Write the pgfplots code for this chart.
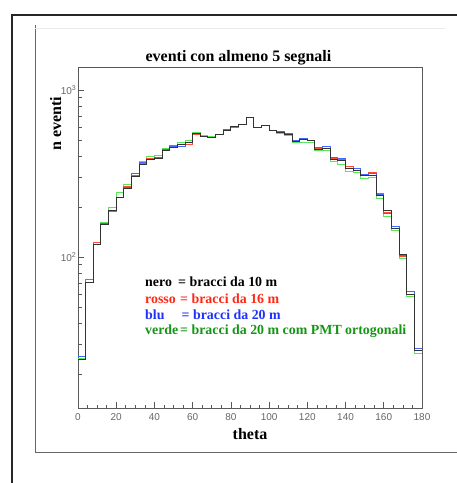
\documentclass[border=0pt]{standalone}
\usepackage{fontspec}
\setmainfont{Liberation Serif}
\setsansfont{Liberation Sans}
\usepackage{pgfplots}
\usepackage{pgfplotstable}
\pgfplotsset{compat=1.18}

\definecolor{histred}{RGB}{255,75,55}
\definecolor{histblue}{RGB}{70,100,255}
\definecolor{histgreen}{RGB}{90,230,90}
\definecolor{txtred}{RGB}{255,40,20}
\definecolor{txtblue}{RGB}{30,50,250}
\definecolor{txtgreen}{RGB}{20,150,20}

% counts per 4-degree bin of theta (last row closes the final bin)
\pgfplotstableread{
theta nero rosso blu verde
0 24.5 24.5 25.3 24.8
4 70.3 73 70 70.5
8 118.8 122.5 118.5 122
12 157 157 158 161.5
16 190 186.6 191 198.7
20 226 227.5 228 243.7
24 258 264 262 273.5
28 302 307 317 317
32 356 364 369 372.5
36 383 387 386 402
40 389 395 392 406
44 434 440 440 448
48 452 464 456 464
52 475 470 462 486
56 485 473 485 496
60 549 543 549 553
64 530 525 530 532
68 523 517 523 525
72 543 543 545 543
76 576 576 578 578
80 605 598 605 606
84 622 622 622 624
88 684 689 686 682
92 593 593 595 595
96 612 615 615 614
100 576 576 576 574
104 556 556 563 550
108 541 541 547 534
112 495 500 497 488
116 505 516 511 486
120 498 498 500 484
124 443 448 454 437
128 446 446 458 436
132 384 388 394 371
136 378 386 388 356
140 339 347 340 324
144 332 337 337 321
148 306 313 310 297
152 307 321 317 300
156 233 240 238 225
160 189 186 182.5 176
164 148.5 148 153 143.7
168 103.8 101.4 102 98.2
172 60 62.6 62.6 57.8
176 27.5 27.5 28.4 26.5
180 27.5 27.5 28.4 26.5
}\hist

\begin{document}
\begin{tikzpicture}
\useasboundingbox (0pt,0pt) rectangle (457pt,483pt);
% page frame
\draw[line width=1.8pt, black!85] (12pt,0pt) -- (12pt,468pt) -- (457pt,468pt);
\draw[line width=0.8pt, black!60] (35pt,458pt) -- (35pt,31pt) -- (457pt,31pt);
\draw[line width=0.5pt, black!8] (35pt,455pt) -- (445pt,455pt);

\begin{axis}[
  at={(78pt,75pt)}, anchor=south west,
  scale only axis, width=344pt, height=341pt,
  ymode=log,
  xmin=0, xmax=180, ymin=12.5, ymax=1373,
  xtick={0,20,...,180},
  minor x tick num=3,
  ytick={100,1000},
  yticklabels={10\textsuperscript{2},10\textsuperscript{3}},
  minor ytick={20,30,40,50,60,70,80,90,200,300,400,500,600,700,800,900},
  xtick pos=bottom, ytick pos=left,
  tick align=inside,
  major tick length=6pt, minor tick length=3.5pt,
  tick style={black!65, line width=0.6pt},
  axis line style={black!65, line width=0.9pt},
  /pgf/number format/assume math mode=true,
  ticklabel style={font=\sffamily\fontsize{10}{12}\selectfont, text=black!60},
  yticklabel style={inner sep=1.5pt},
  xticklabel style={yshift=-2pt},
]
\addplot[const plot, histgreen, line width=1pt] table[x=theta, y=verde] {\hist};
\addplot[const plot, histred, line width=1pt] table[x=theta, y=rosso] {\hist};
\addplot[const plot, histblue, line width=1pt] table[x=theta, y=blu] {\hist};
\addplot[const plot, black!80, line width=1pt] table[x=theta, y=nero] {\hist};
\end{axis}

% titles
\node[anchor=base, font=\bfseries\fontsize{16}{19}\selectfont] at (238.5pt,421pt) {eventi con almeno 5 segnali};
\node[anchor=base, rotate=90, font=\bfseries\fontsize{16}{19}\selectfont] at (61pt,359pt) {n eventi};
\node[anchor=base, font=\bfseries\fontsize{16}{19}\selectfont] at (250pt,44pt) {theta};

% colour key
\begin{scope}[every node/.style={anchor=base west, inner sep=0pt, font=\bfseries\fontsize{13.9}{16}\selectfont}]
\node at (145pt,196pt)   {\makebox[33pt][l]{nero}= bracci da 10 m};
\node[text=txtred] at (145pt,179.5pt) {\makebox[35pt][l]{rosso}= bracci da 16 m};
\node[text=txtblue] at (145pt,163.5pt) {\makebox[36.5pt][l]{blu}= bracci da 20 m};
\node[text=txtgreen] at (145pt,148pt) {\makebox[35pt][l]{verde}= bracci da 20 m com PMT ortogonali};
\end{scope}
\end{tikzpicture}
\end{document}
